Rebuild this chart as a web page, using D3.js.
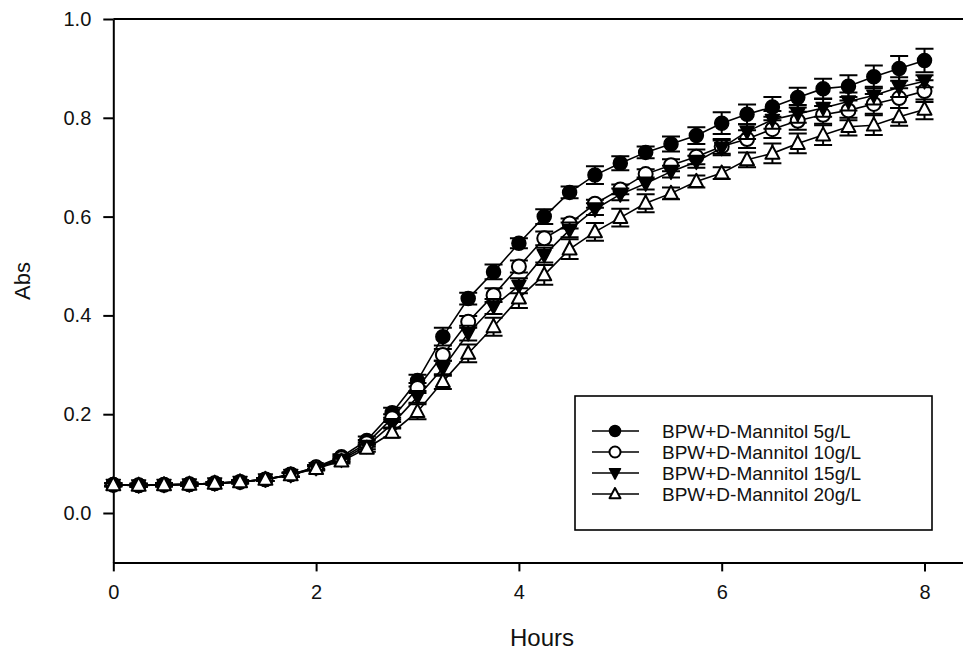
<!DOCTYPE html>
<html>
<head>
<meta charset="utf-8">
<script src="https://cdn.jsdelivr.net/npm/d3@7"></script>
<style>
  html, body { margin: 0; padding: 0; background: #fff; }
  svg { display: block; font-family: "Liberation Sans", Arial, sans-serif; }
</style>
</head>
<body>
<svg id="chart" width="963" height="651"></svg>
<script>
// Sampling times (h)
const hours = [0, 0.25, 0.5, 0.75, 1, 1.25, 1.5, 1.75, 2, 2.25, 2.5, 2.75, 3, 3.25, 3.5, 3.75,
  4, 4.25, 4.5, 4.75, 5, 5.25, 5.5, 5.75, 6, 6.25, 6.5, 6.75, 7, 7.25, 7.5, 7.75, 8];

// Mean absorbance per medium
const abs5 = [0.057, 0.056, 0.057, 0.058, 0.060, 0.063, 0.068, 0.078, 0.093, 0.114, 0.147, 0.203, 0.268, 0.357, 0.434, 0.488,
  0.546, 0.600, 0.649, 0.684, 0.708, 0.730, 0.747, 0.764, 0.789, 0.807, 0.822, 0.841, 0.859, 0.864, 0.883, 0.900, 0.916];
const abs10 = [0.057, 0.056, 0.057, 0.058, 0.060, 0.063, 0.068, 0.078, 0.092, 0.111, 0.141, 0.192, 0.253, 0.320, 0.387, 0.441,
  0.499, 0.556, 0.586, 0.626, 0.655, 0.686, 0.704, 0.721, 0.742, 0.757, 0.777, 0.794, 0.806, 0.815, 0.828, 0.840, 0.854];
const abs15 = [0.057, 0.056, 0.057, 0.058, 0.060, 0.063, 0.068, 0.077, 0.091, 0.108, 0.136, 0.180, 0.235, 0.293, 0.364, 0.418,
  0.460, 0.522, 0.573, 0.615, 0.645, 0.667, 0.691, 0.711, 0.739, 0.772, 0.796, 0.808, 0.820, 0.833, 0.845, 0.862, 0.874];
const abs20 = [0.057, 0.056, 0.057, 0.058, 0.060, 0.063, 0.068, 0.077, 0.090, 0.105, 0.131, 0.163, 0.205, 0.266, 0.323, 0.377,
  0.435, 0.482, 0.534, 0.569, 0.598, 0.627, 0.647, 0.671, 0.688, 0.715, 0.728, 0.748, 0.765, 0.782, 0.785, 0.802, 0.817];

// Standard deviations
const sd5 = [0.003, 0.003, 0.003, 0.003, 0.003, 0.003, 0.003, 0.004, 0.004, 0.005, 0.008, 0.010, 0.012, 0.018, 0.012, 0.015,
  0.010, 0.015, 0.012, 0.018, 0.014, 0.012, 0.015, 0.017, 0.022, 0.020, 0.020, 0.020, 0.020, 0.022, 0.023, 0.025, 0.024];
const sd10 = [0.003, 0.003, 0.003, 0.003, 0.003, 0.003, 0.003, 0.004, 0.004, 0.005, 0.007, 0.008, 0.010, 0.012, 0.012, 0.014,
  0.012, 0.014, 0.010, 0.008, 0.010, 0.010, 0.012, 0.015, 0.015, 0.018, 0.018, 0.018, 0.018, 0.020, 0.020, 0.020, 0.022];
const sd15 = [0.003, 0.003, 0.003, 0.003, 0.003, 0.003, 0.003, 0.004, 0.004, 0.005, 0.007, 0.009, 0.012, 0.015, 0.015, 0.015,
  0.015, 0.015, 0.015, 0.012, 0.012, 0.012, 0.012, 0.012, 0.015, 0.015, 0.018, 0.018, 0.018, 0.018, 0.018, 0.020, 0.012];
const sd20 = [0.003, 0.003, 0.003, 0.003, 0.003, 0.003, 0.003, 0.004, 0.004, 0.005, 0.007, 0.010, 0.015, 0.015, 0.018, 0.018,
  0.020, 0.020, 0.020, 0.018, 0.018, 0.018, 0.012, 0.012, 0.012, 0.015, 0.020, 0.020, 0.020, 0.018, 0.020, 0.018, 0.020];

const seriesNames = ["BPW+D-Mannitol 5g/L", "BPW+D-Mannitol 10g/L", "BPW+D-Mannitol 15g/L", "BPW+D-Mannitol 20g/L"];
const seriesMarkers = ["circleFilled", "circleOpen", "triangleDown", "triangleUp"];

const xTicks = [0, 2, 4, 6, 8];
const yTicks = [0.0, 0.2, 0.4, 0.6, 0.8, 1.0];
const xTitle = "Hours";
const yTitle = "Abs";

const series = [
  { name: seriesNames[0], marker: seriesMarkers[0], mean: abs5, sd: sd5 },
  { name: seriesNames[1], marker: seriesMarkers[1], mean: abs10, sd: sd10 },
  { name: seriesNames[2], marker: seriesMarkers[2], mean: abs15, sd: sd15 },
  { name: seriesNames[3], marker: seriesMarkers[3], mean: abs20, sd: sd20 }
];

const svg = d3.select("#chart");

const x = d3.scaleLinear().domain([0, 8.5]).range([113.3, 975.2]);
const y = d3.scaleLinear().domain([-0.1, 1.0]).range([562.4, 19]);

// Frame: top and right edges
svg.append("path")
  .attr("d", `M${x(0)},${y(1.0)}H${x(8.5)}V${y(-0.1)}`)
  .attr("fill", "none").attr("stroke", "#000").attr("stroke-width", 2);

// Axes
const yAxis = d3.axisLeft(y).tickValues(yTicks).tickFormat(d3.format(".1f"))
  .tickSize(10).tickSizeOuter(0).tickPadding(12);
const xAxis = d3.axisBottom(x).tickValues(xTicks).tickFormat(d3.format("d"))
  .tickSize(9).tickSizeOuter(0).tickPadding(13);

const gy = svg.append("g").attr("transform", `translate(${x(0)},0)`).call(yAxis);
const gx = svg.append("g").attr("transform", `translate(0,${y(-0.1)})`).call(xAxis);
[gx, gy].forEach(g => {
  g.selectAll(".domain").attr("stroke", "#000").attr("stroke-width", 2);
  g.selectAll(".tick line").attr("stroke", "#000").attr("stroke-width", 2);
  g.selectAll(".tick text").attr("fill", "#111").attr("font-size", 20)
    .attr("font-family", "Liberation Sans, Arial, sans-serif");
});

// Axis titles
svg.append("text").attr("x", 542).attr("y", 646).attr("text-anchor", "middle")
  .attr("font-size", 24).attr("fill", "#111").text(xTitle);
svg.append("text").attr("transform", "translate(30,281) rotate(-90)").attr("text-anchor", "middle")
  .attr("font-size", 22).attr("fill", "#111").text(yTitle);

// Marker drawing
function drawMarker(g, type, cx, cy, size) {
  const r = size / 2;
  if (type === "circleFilled") {
    g.append("circle").attr("cx", cx).attr("cy", cy).attr("r", r)
      .attr("fill", "#000").attr("stroke", "#000").attr("stroke-width", 1.5);
  } else if (type === "circleOpen") {
    g.append("circle").attr("cx", cx).attr("cy", cy).attr("r", r)
      .attr("fill", "#fff").attr("stroke", "#000").attr("stroke-width", 2);
  } else if (type === "triangleDown") {
    const h = r * 1.1;
    g.append("path")
      .attr("d", `M${cx - r},${cy - h * 0.7}L${cx + r},${cy - h * 0.7}L${cx},${cy + h * 1.0}Z`)
      .attr("fill", "#000").attr("stroke", "#000").attr("stroke-width", 1.5).attr("stroke-linejoin", "round");
  } else {
    const h = r * 1.1;
    g.append("path")
      .attr("d", `M${cx - r},${cy + h * 0.7}L${cx + r},${cy + h * 0.7}L${cx},${cy - h * 1.0}Z`)
      .attr("fill", "#fff").attr("stroke", "#000").attr("stroke-width", 2).attr("stroke-linejoin", "round");
  }
}

const line = d3.line().x(d => x(d.t)).y(d => y(d.v));
const capW = 9;

series.forEach(s => {
  const pts = hours.map((t, i) => ({ t, v: s.mean[i], e: s.sd[i] }));
  const g = svg.append("g");
  g.append("path").datum(pts).attr("d", line)
    .attr("fill", "none").attr("stroke", "#000").attr("stroke-width", 1.6);
  // Error bars with caps
  pts.forEach(p => {
    const cx = x(p.t), y1 = y(p.v + p.e), y2 = y(p.v - p.e);
    g.append("path")
      .attr("d", `M${cx},${y1}V${y2}M${cx - capW},${y1}H${cx + capW}M${cx - capW},${y2}H${cx + capW}`)
      .attr("fill", "none").attr("stroke", "#000").attr("stroke-width", 2);
  });
  pts.forEach(p => drawMarker(g, s.marker, x(p.t), y(p.v), 14));
});

// Legend
const lg = svg.append("g");
lg.append("rect").attr("x", 575).attr("y", 396).attr("width", 357).attr("height", 134)
  .attr("fill", "#fff").attr("stroke", "#000").attr("stroke-width", 1.6);
series.forEach((s, i) => {
  const cy = 431 + i * 21;
  lg.append("line").attr("x1", 592).attr("x2", 639).attr("y1", cy).attr("y2", cy)
    .attr("stroke", "#000").attr("stroke-width", 1.6);
  drawMarker(lg, s.marker, 615, cy, 11);
  lg.append("text").attr("x", 662).attr("y", cy + 7).attr("font-size", 19)
    .attr("fill", "#111").text(s.name);
});
</script>
</body>
</html>
